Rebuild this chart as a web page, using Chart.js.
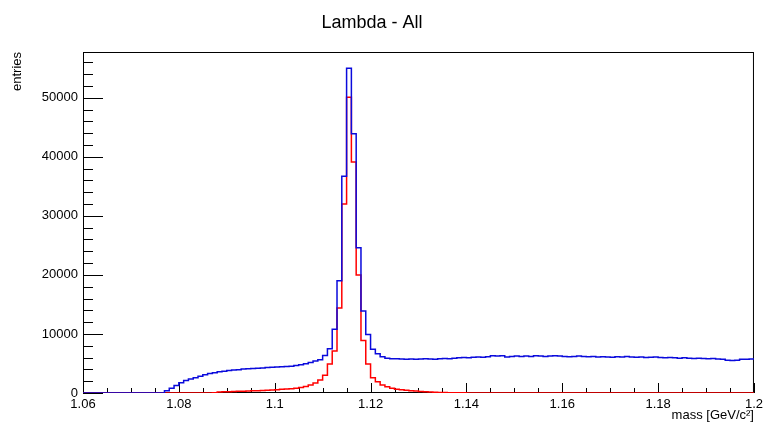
<!DOCTYPE html>
<html>
<head>
<meta charset="utf-8">
<script src="https://cdn.jsdelivr.net/npm/chart.js@4/dist/chart.umd.min.js"></script>
<style>
html, body { margin: 0; padding: 0; background: #fff; }
</style>
</head>
<body>
<canvas id="massChart" width="767" height="423"></canvas>
<script>
// binning of the histogram: 140 bins of 1 MeV from 1.06 to 1.2
const binStart = 1.06;
const binWidth = 0.001;

// all candidates (blue), one value per bin
const allEntries = [
    0, 0, 0, 0, 0, 0, 0, 0, 0, 0,
    0, 0, 0, 0, 0, 0, 0, 400, 800, 1250,
    1750, 2100, 2350, 2600, 2850, 3100, 3300, 3450, 3600, 3700,
    3800, 3900, 3950, 4050, 4100, 4150, 4200, 4250, 4300, 4350,
    4400, 4450, 4500, 4550, 4650, 4800, 4950, 5150, 5400, 5650,
    6350, 7500, 10800, 19000, 36700, 55000, 43900, 24600, 13900, 9900,
    7400, 6650, 6150, 5900, 5800, 5800, 5750, 5700, 5750, 5700,
    5750, 5800, 5750, 5700, 5800, 5850, 5800, 5900, 5950, 6000,
    5950, 6050, 6100, 6050, 6150, 6300, 6250, 6300, 6100, 6200,
    6250, 6200, 6250, 6200, 6300, 6250, 6200, 6250, 6300, 6250,
    6200, 6150, 6200, 6250, 6200, 6150, 6200, 6100, 6150, 6100,
    6050, 6150, 6100, 6200, 6100, 6050, 6100, 6000, 6050, 6100,
    6000, 5950, 6000, 5950, 5900, 5950, 5900, 5850, 5900, 5850,
    5800, 5850, 5750, 5700, 5550, 5500, 5550, 5700, 5700, 5750
];

// selected candidates (red)
const selectedEntries = [
    0, 0, 0, 0, 0, 0, 0, 0, 0, 0,
    0, 0, 0, 0, 0, 0, 0, 0, 0, 0,
    0, 0, 0, 0, 0, 0, 0, 50, 150, 200,
    220, 250, 280, 310, 340, 370, 400, 440, 480, 520,
    570, 620, 680, 740, 820, 920, 1100, 1350, 1700, 2200,
    3000, 4900, 7100, 14400, 32000, 50100, 39100, 20000, 8900, 4900,
    2600, 1900, 1350, 1050, 800, 650, 550, 450, 380, 320,
    260, 210, 170, 130, 100, 80, 60, 45, 35, 25,
    20, 15, 12, 10, 10, 8, 8, 6, 6, 5,
    5, 4, 4, 3, 3, 2, 2, 2, 1, 1,
    0, 0, 0, 0, 0, 0, 0, 0, 0, 0,
    0, 0, 0, 0, 0, 0, 0, 0, 0, 0,
    0, 0, 0, 0, 0, 0, 0, 0, 0, 0,
    0, 0, 0, 0, 0, 0, 0, 0, 0, 0
];

const xTickValues = [1.06, 1.08, 1.1, 1.12, 1.14, 1.16, 1.18, 1.2];
const xTickLabels = ['1.06', '1.08', '1.1', '1.12', '1.14', '1.16', '1.18', '1.2'];
const yTickValues = [0, 10000, 20000, 30000, 40000, 50000];
const yTickLabels = ['0', '10000', '20000', '30000', '40000', '50000'];
const yMax = 57750;

const FONT = "'Liberation Sans', Arial, Helvetica, sans-serif";

// one point per bin low edge, plus the upper edge of the last bin
function toSteps(values) {
    const pts = values.map((v, i) => ({ x: binStart + i * binWidth, y: v }));
    pts.push({ x: binStart + values.length * binWidth, y: values[values.length - 1] });
    return pts;
}

// ROOT style frame with ticks pointing inward, title on top
const rootFrame = {
    id: 'rootFrame',
    beforeDatasetsDraw(chart) {
        const { ctx, chartArea: a, scales: { x, y } } = chart;
        ctx.save();
        ctx.strokeStyle = '#000';
        ctx.lineWidth = 1;
        ctx.beginPath();
        for (let k = 0; k <= 28; k++) {
            const v = 1.06 + k * 0.005;
            const px = Math.round(x.getPixelForValue(v)) + 0.5;
            const len = (k % 4 === 0) ? 10 : 5;
            ctx.moveTo(px, a.bottom);
            ctx.lineTo(px, a.bottom - len);
        }
        for (let k = 0; k <= 28; k++) {
            const v = k * 2000;
            const py = Math.round(y.getPixelForValue(v)) + 0.5;
            const len = (k % 5 === 0) ? 20 : 10;
            ctx.moveTo(a.left, py);
            ctx.lineTo(a.left + len, py);
        }
        ctx.stroke();
        ctx.strokeRect(a.left + 0.5, a.top + 0.5, a.width - 1, a.height - 1);
        ctx.restore();
    },
    afterDraw(chart) {
        const { ctx } = chart;
        ctx.save();
        ctx.fillStyle = '#000';
        ctx.font = '18px ' + FONT;
        ctx.textAlign = 'center';
        ctx.textBaseline = 'middle';
        ctx.fillText('Lambda - All', 372, 23);
        ctx.restore();
    }
};

new Chart(document.getElementById('massChart'), {
    type: 'line',
    data: {
        datasets: [{
            label: 'all',
            data: toSteps(allEntries),
            borderColor: 'rgb(10, 10, 220)',
            borderWidth: 1.5,
            pointRadius: 0,
            stepped: true,
            fill: false
        }, {
            label: 'selected',
            data: toSteps(selectedEntries),
            borderColor: 'rgb(255, 0, 0)',
            borderWidth: 1.5,
            pointRadius: 0,
            stepped: true,
            fill: false
        }]
    },
    options: {
        responsive: false,
        animation: false,
        devicePixelRatio: 1,
        layout: { padding: { top: 52, right: 10, left: 0, bottom: 0 } },
        plugins: {
            legend: { display: false },
            tooltip: { enabled: false },
            title: { display: false }
        },
        scales: {
            x: {
                type: 'linear',
                min: 1.06,
                max: 1.2,
                grid: { display: false, drawTicks: false },
                border: { display: false },
                afterBuildTicks: s => { s.ticks = xTickValues.map(v => ({ value: v })); },
                afterFit: s => { s.height = 30; },
                ticks: {
                    autoSkip: false,
                    maxRotation: 0,
                    padding: 4,
                    color: '#000',
                    font: { family: FONT, size: 13 },
                    callback: (v, i) => xTickLabels[i]
                },
                title: {
                    display: true,
                    text: 'mass [GeV/c²]',
                    align: 'end',
                    color: '#000',
                    padding: { top: 0, bottom: 0 },
                    font: { family: FONT, size: 13 }
                }
            },
            y: {
                min: 0,
                max: yMax,
                grid: { display: false, drawTicks: false },
                border: { display: false },
                afterBuildTicks: s => { s.ticks = yTickValues.map(v => ({ value: v })); },
                afterFit: s => { s.width = 83; },
                ticks: {
                    autoSkip: false,
                    padding: 5,
                    color: '#000',
                    font: { family: FONT, size: 13 },
                    callback: (v, i) => yTickLabels[i]
                },
                title: {
                    display: true,
                    text: 'entries',
                    align: 'end',
                    color: '#000',
                    padding: { top: 10, bottom: 0 },
                    font: { family: FONT, size: 13 }
                }
            }
        }
    },
    plugins: [rootFrame]
});
</script>
</body>
</html>
